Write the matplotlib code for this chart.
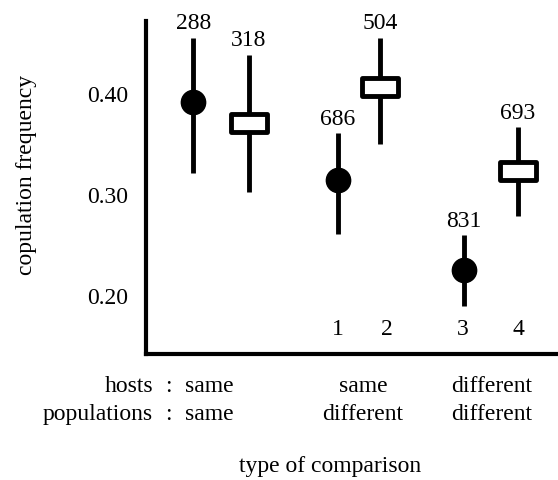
import matplotlib
matplotlib.use('Agg')
import matplotlib.pyplot as plt
from matplotlib.path import Path

plt.rcParams['font.family'] = ['Liberation Serif', 'DejaVu Serif']

# data
freq = [0.391, 0.370, 0.314, 0.406, 0.225, 0.323]
low = [0.321, 0.302, 0.260, 0.350, 0.189, 0.278]
high = [0.455, 0.438, 0.360, 0.455, 0.259, 0.366]
counts = [288, 318, 686, 504, 831, 693]
kind = ['circle', 'box', 'circle', 'box', 'circle', 'box']
comparison = ['1', '2', '3', '4']
hosts = ['same', 'same', 'different']
populations = ['same', 'different', 'different']

xpos = [1.15, 2.5, 4.65, 5.68, 7.72, 9.03]
comp_x = [4.65, 5.85, 7.7, 9.03]
group_x = [1.53, 5.27, 8.4]

box = Path([(-1, -0.5), (1, -0.5), (1, 0.5), (-1, 0.5), (-1, -0.5)],
           [Path.MOVETO, Path.LINETO, Path.LINETO, Path.LINETO, Path.CLOSEPOLY])

fs = 17
fig = plt.figure(figsize=(5.58, 4.81), dpi=100)
ax = fig.add_axes([0.2616, 0.262, 0.7384, 0.692])

ax.vlines(xpos, low, high, color='black', lw=3.5, zorder=1)
for x, y, k in zip(xpos, freq, kind):
    if k == 'circle':
        ax.plot(x, y, marker='o', ms=17.5, color='black', zorder=3)
    else:
        ax.plot(x, y, marker=box, ms=25.5, mfc='white', mec='black', mew=3.5, zorder=3)

for x, h, n in zip(xpos, high, counts):
    ax.annotate(str(n), (x, h), xytext=(0, 7), textcoords='offset points',
                ha='center', va='baseline', fontsize=fs)

for x, c in zip(comp_x, comparison):
    ax.text(x, 0.06, c, transform=ax.get_xaxis_transform(), ha='center',
            va='baseline', fontsize=fs)

ax.set_xlim(0, 10)
ax.set_ylim(0.1416, 0.4713)
ax.set_yticks([0.2, 0.3, 0.4])
ax.set_yticklabels(['0.20', '0.30', '0.40'])
ax.set_xticks([])
ax.tick_params(axis='y', length=0, pad=13, labelsize=fs)
for s in ['top', 'right']:
    ax.spines[s].set_visible(False)
for s in ['left', 'bottom']:
    ax.spines[s].set_linewidth(3)

# row labels under the axis
fig.text(153 / 558, 1 - 392 / 481, 'hosts', ha='right', va='baseline', fontsize=fs)
fig.text(153 / 558, 1 - 420 / 481, 'populations', ha='right', va='baseline', fontsize=fs)
fig.text(168 / 558, 1 - 392 / 481, ':', ha='center', va='baseline', fontsize=fs)
fig.text(168 / 558, 1 - 420 / 481, ':', ha='center', va='baseline', fontsize=fs)
trans = matplotlib.transforms.blended_transform_factory(ax.transData, fig.transFigure)
for x, h, p in zip(group_x, hosts, populations):
    ax.text(x, 1 - 392 / 481, h, transform=trans, ha='center', va='baseline',
            fontsize=fs, clip_on=False)
    ax.text(x, 1 - 420 / 481, p, transform=trans, ha='center', va='baseline',
            fontsize=fs, clip_on=False)

fig.text(330 / 558, 1 - 472 / 481, 'type of comparison', ha='center', va='baseline', fontsize=fs)
fig.text(27 / 558, 1 - 175 / 481, 'copulation frequency', ha='center', va='center',
         rotation=90, fontsize=fs)

fig.savefig('out.png', dpi=100)
